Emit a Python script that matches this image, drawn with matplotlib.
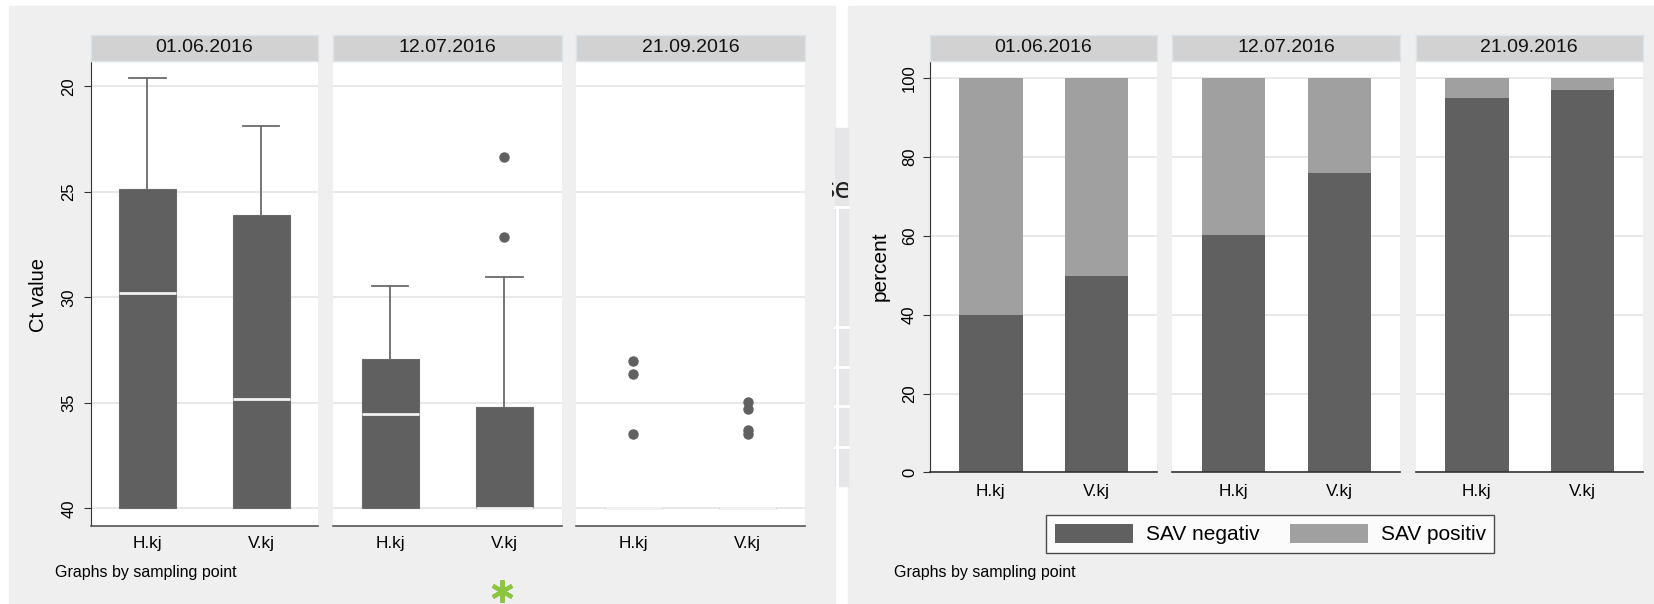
import matplotlib
matplotlib.use('Agg')
import matplotlib.pyplot as plt
from matplotlib.patches import Rectangle, Patch
from matplotlib.lines import Line2D

plt.rcParams['font.family'] = ['Liberation Sans', 'DejaVu Sans']

# data
dates = ['01.06.2016', '12.07.2016', '21.09.2016']
points = ['H.kj', 'V.kj']

# Ct value boxes (axis inverted: low Ct at top)
ct_q1 = [[24.85, 26.1], [32.9, 35.2], [40.0, 40.0]]
ct_med = [[29.8, 34.8], [35.5, 40.0], [40.0, 40.0]]
ct_q3 = [[40.0, 40.0], [40.0, 40.0], [40.0, 40.0]]
ct_wlo = [[19.6, 21.9], [29.45, 29.05], [40.0, 40.0]]
ct_whi = [[40.0, 40.0], [40.0, 40.0], [40.0, 40.0]]
ct_out = [[[], []],
          [[], [23.35, 27.15]],
          [[33.0, 33.65, 36.45], [34.95, 35.3, 36.3, 36.45]]]

# percent of samples
sav_neg = [[40.0, 49.7], [60.2, 76.0], [95.0, 97.1]]
sav_pos = [[60.0, 50.3], [39.8, 24.0], [5.0, 2.9]]

W, H = 1654, 604
dark = '#606060'
light = '#a0a0a0'
bg = '#efefef'
strip_col = '#d2d2d2'
grid_col = '#e6e6e6'


def box(x0, y0, x1, y1):
    return [x0 / W, 1 - y1 / H, (x1 - x0) / W, (y1 - y0) / H]


def strip(x0, x1, title):
    s = fig.add_axes(box(x0, 34.7, x1, 61))
    s.set_facecolor(strip_col)
    s.set_xticks([])
    s.set_yticks([])
    for sp in s.spines.values():
        sp.set_color('#dce4e7')
        sp.set_linewidth(1)
    s.text(0.5, 0.5, title, ha='center', va='center', fontsize=14,
           color='#111111', transform=s.transAxes)


fig = plt.figure(figsize=(W / 100, H / 100), dpi=100, facecolor='white')

# graph backgrounds
fig.patches.append(Rectangle((9 / W, 0), (835 - 9) / W, 1 - 6 / H,
                             transform=fig.transFigure, color=bg, zorder=-5))
fig.patches.append(Rectangle((848 / W, 0), (W - 848) / W, 1 - 6 / H,
                             transform=fig.transFigure, color=bg, zorder=-5))

# ---- left graph: box plots ----
left_x = [(90.5, 318), (333, 561.6), (576, 805)]
for i, (x0, x1) in enumerate(left_x):
    ax = fig.add_axes(box(x0, 61, x1, 525.8))
    stats = []
    for j in range(2):
        stats.append(dict(med=ct_med[i][j], q1=ct_q1[i][j], q3=ct_q3[i][j],
                          whislo=ct_wlo[i][j], whishi=ct_whi[i][j],
                          fliers=ct_out[i][j]))
    res = ax.bxp(stats, positions=[1, 2], widths=0.5, capwidths=0.32,
                 patch_artist=True,
                 boxprops=dict(facecolor=dark, edgecolor='#6a6a6a', linewidth=0.8),
                 medianprops=dict(color='#f2f2f2', linewidth=2),
                 whiskerprops=dict(color='#6a6a6a', linewidth=1.3),
                 capprops=dict(color='#6a6a6a', linewidth=1.3),
                 flierprops=dict(marker='o', markerfacecolor=dark,
                                 markeredgecolor=dark, markersize=6.5))
    for c in res['caps']:
        if min(c.get_ydata()) >= 40:
            c.set_visible(False)
    ax.set_xlim(0.5, 2.5)
    ax.set_ylim(40.82, 18.8)
    ax.set_yticks([20, 25, 30, 35, 40])
    ax.set_xticks([1, 2])
    ax.set_xticklabels(points)
    ax.yaxis.grid(True, color=grid_col, linewidth=1.3)
    ax.set_axisbelow(True)
    ax.spines['top'].set_visible(False)
    ax.spines['right'].set_visible(False)
    ax.spines['bottom'].set_color('#555555')
    ax.spines['bottom'].set_linewidth(1.2)
    ax.tick_params(axis='x', length=0, pad=7, labelsize=12.3)
    if i == 0:
        ax.spines['left'].set_color('#333333')
        ax.tick_params(axis='y', length=5, pad=5, labelsize=12,
                       labelrotation=90, color='#333333')
        for t in ax.get_yticklabels():
            t.set_va('center')
    else:
        ax.spines['left'].set_visible(False)
        ax.tick_params(axis='y', left=False, labelleft=False)
    strip(x0, x1, dates[i])

fig.text(39 / W, 1 - 294.7 / H, 'Ct value', rotation=90, ha='center',
         va='center', fontsize=14.5)
fig.text(55 / W, 1 - 573 / H, 'Graphs by sampling point', ha='left',
         va='center', fontsize=11.5)

# ---- right graph: stacked percent bars ----
right_x = [(929.6, 1156.7), (1172, 1400), (1415.5, 1643)]
for i, (x0, x1) in enumerate(right_x):
    ax = fig.add_axes(box(x0, 61, x1, 472.3))
    ax.bar([1, 2], sav_neg[i], width=0.6, color=dark, linewidth=0)
    ax.bar([1, 2], sav_pos[i], bottom=sav_neg[i], width=0.6, color=light,
           linewidth=0)
    ax.set_xlim(0.42, 2.57)
    ax.set_ylim(0, 104.4)
    ax.set_yticks([0, 20, 40, 60, 80, 100])
    ax.set_xticks([1, 2])
    ax.set_xticklabels(points)
    ax.yaxis.grid(True, color=grid_col, linewidth=1.3)
    ax.set_axisbelow(True)
    ax.spines['top'].set_visible(False)
    ax.spines['right'].set_visible(False)
    ax.spines['bottom'].set_color('#333333')
    ax.spines['bottom'].set_linewidth(1.2)
    ax.tick_params(axis='x', length=0, pad=8.5, labelsize=12.3)
    if i == 0:
        ax.spines['left'].set_color('#333333')
        ax.tick_params(axis='y', length=5, pad=4, labelsize=12,
                       labelrotation=90, color='#333333')
        for t in ax.get_yticklabels():
            t.set_va('center')
    else:
        ax.spines['left'].set_visible(False)
        ax.tick_params(axis='y', left=False, labelleft=False)
    strip(x0, x1, dates[i])

fig.text(880.6 / W, 1 - 266 / H, 'percent', rotation=90, ha='center',
         va='center', fontsize=15)
fig.text(893.7 / W, 1 - 573 / H, 'Graphs by sampling point', ha='left',
         va='center', fontsize=11.5)

handles = [Patch(facecolor=dark, edgecolor='none', label='SAV negativ'),
           Patch(facecolor=light, edgecolor='none', label='SAV positiv')]
leg = fig.legend(handles=handles, loc='center', ncol=2,
                 bbox_to_anchor=(1270.4 / W, 1 - 534 / H), fontsize=15,
                 frameon=True, fancybox=False, handlelength=3.75,
                 handleheight=1.04, handletextpad=0.63, columnspacing=1.45,
                 borderpad=0.4)
leg.get_frame().set_edgecolor('#222222')
leg.get_frame().set_linewidth(1)

# leftover sliver of another figure between the two graphs
fig.patches.append(Rectangle((835 / W, 1 - 486 / H), 13 / W, (486 - 128) / H,
                             transform=fig.transFigure, color='#e6e6e8', zorder=-4))
fig.add_artist(Line2D([836.5 / W, 836.5 / W], [1 - 207 / H, 1 - 486 / H],
                      transform=fig.transFigure, color='white', linewidth=2))
for yy in [207, 327, 367, 406, 447]:
    fig.add_artist(Line2D([835 / W, 848 / W], [1 - yy / H, 1 - yy / H],
                          transform=fig.transFigure, color='white', linewidth=2))
clip = Rectangle((832 / W, 1 - 205 / H), 16 / W, 40 / H,
                 transform=fig.transFigure, visible=False)
fig.patches.append(clip)
frag = fig.text(852 / W, 1 - 190 / H, 'se', ha='right', va='center',
                fontsize=20, color='#222222', family='DejaVu Sans')
frag.set_clip_path(clip)
frag.set_clip_on(True)

# green marker below the left graph
fig.add_artist(Line2D([502 / W], [1 - 591 / H], transform=fig.transFigure,
                      marker=(6, 2, 0), markersize=16, markeredgewidth=3,
                      color='#8cc63f', linestyle='none'))

fig.savefig('out.png', dpi=100, facecolor='white')
